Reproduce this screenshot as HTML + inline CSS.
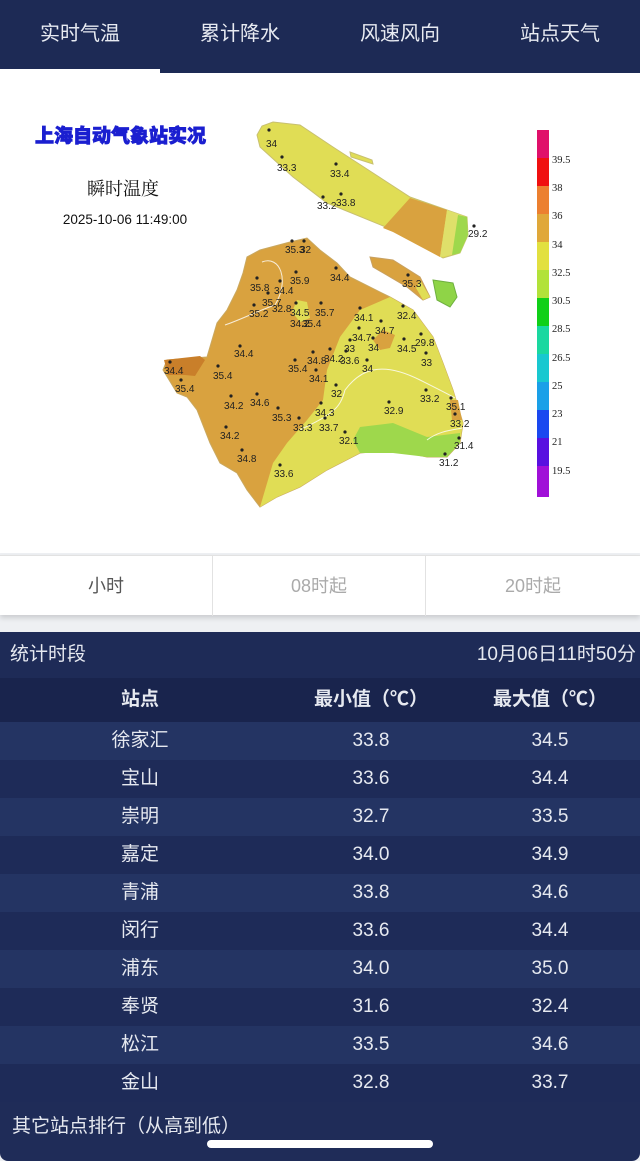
<!DOCTYPE html>
<html><head><meta charset="utf-8">
<style>
*{margin:0;padding:0;box-sizing:border-box}
body{width:640px;height:1161px;overflow:hidden;background:#eef0f3;font-family:"Liberation Sans","Noto Sans CJK SC",sans-serif;position:relative}
.nav{position:absolute;left:0;top:0;width:640px;height:73px;background:#1d2a55;box-shadow:0 3px 6px rgba(0,0,0,.15)}
.nav span{position:absolute;top:22px;line-height:24px;font-size:20px;color:#e8ebf2;width:160px;text-align:center}
.ul{position:absolute;left:0;top:69px;width:160px;height:4px;background:#fff}
.map{position:absolute;left:0;top:73px;width:640px;height:480px;background:#fff}
.seg{position:absolute;left:0;top:555px;width:640px;height:60px;background:#fff;border-top:1px solid #e2e2e2;box-shadow:0 3px 5px rgba(0,0,0,.15)}
.seg div{position:absolute;top:0;height:60px;width:213px;text-align:center;line-height:60px;font-size:18px;color:#aaa;border-right:1px solid #e2e2e2}
.tbl{position:absolute;left:0;top:632px;width:640px;height:529px;background:#1f2c58;border-radius:0 0 8px 8px}
.row{position:absolute;left:0;width:640px;height:38px;color:#e6e9f0;font-size:19px}
.row span{position:absolute;top:8px;line-height:22px;height:22px;text-align:center}
.c1{left:40px;width:200px}.c2{left:271px;width:200px}.c3{left:450px;width:200px}
</style></head><body>
<div class="nav">
<span style="left:0">实时气温</span><span style="left:160px">累计降水</span><span style="left:320px">风速风向</span><span style="left:480px">站点天气</span>
<div class="ul"></div></div>
<div class="map">
<svg width="640" height="480" viewBox="0 73 640 480" xmlns="http://www.w3.org/2000/svg" font-family="Liberation Sans, sans-serif">
<text x="35" y="142" font-size="19" font-weight="900" fill="#1b1fd0" font-family="Noto Sans CJK SC, sans-serif" stroke="#1b1fd0" stroke-width="0.8">上海自动气象站实况</text>
<text x="123" y="195" font-size="18" text-anchor="middle" fill="#111" font-family="Noto Serif CJK SC, serif">瞬时温度</text>
<text x="125" y="224" font-size="13.5" text-anchor="middle" fill="#111">2025-10-06 11:49:00</text>
<!-- Chongming -->
<polygon points="257,135 262,126 273,122 300,125 333,147 410,197 467,217 468,235 460,253 443,258 393,230 327,203 293,177 260,147" fill="#e0dd55" stroke="#c8c070" stroke-width="1"/>
<polygon points="410,198 447,210 440,257 393,232 383,228" fill="#d9a23f"/>
<polygon points="447,210 467,217 468,235 460,253 440,257" fill="#dfe06a"/>
<polygon points="458,215 467,217 468,235 460,253 452,255" fill="#9ed84c"/>
<polygon points="350,152 372,160 373,164 351,157" fill="#e0dd55" stroke="#c8c070" stroke-width="1"/>
<!-- Changxing / Hengsha -->
<polygon points="370,257 393,260 420,277 430,297 423,300 407,287 373,267" fill="#d9a23f" stroke="#c8a060" stroke-width="1"/>
<polygon points="420,280 430,297 423,300 416,288" fill="#e0dd55"/>
<polygon points="433,280 453,283 457,297 450,307 437,300" fill="#8fd447" stroke="#6fb040" stroke-width="1"/>
<!-- Main body -->
<polygon points="290,242 307,238 320,250 337,263 350,277 390,297 413,310 433,337 443,363 453,390 463,423 460,443 447,457 427,457 393,450 360,453 327,470 300,487 277,497 260,507 247,490 237,473 220,463 210,443 197,410 187,397 177,393 163,370 167,360 207,357 217,323 227,310 237,290 243,273 247,257 260,250" fill="#d9a23f" stroke="#c9a860" stroke-width="1"/>
<polygon points="390,297 413,310 433,337 443,363 453,390 463,423 460,443 447,457 427,457 393,450 360,453 327,470 300,487 277,497 260,507 273,463 287,443 307,420 323,400 327,370 340,337 360,310" fill="#e0dd55"/>
<polygon points="360,427 393,423 427,437 460,433 460,443 447,457 427,457 393,453 360,453 353,440" fill="#9ed84c"/>
<polygon points="164,360 200,356 205,360 195,376 185,375 168,375" fill="#c97f2a"/>
<polygon points="297,300 307,302 310,318 300,322 292,312" fill="#e0dd55"/>
<polygon points="373,340 383,330 395,335 390,348 380,350" fill="#d9a23f"/>
<polygon points="450,400 458,400 462,420 452,420" fill="#d9a23f"/>
<g fill="none" stroke="#fff" stroke-width="1" opacity=".8">
<path d="M262,262 C280,255 290,280 275,305 C260,310 240,320 225,325"/>
<path d="M300,430 C330,415 340,410 345,390 C360,370 380,360 420,380 C440,390 450,395 455,398"/>
<path d="M427,440 C440,430 455,430 462,428"/>
</g>
<g font-size="10" fill="#222">
<circle cx="269" cy="130" r="1.6"/><text x="266" y="147">34</text>
<circle cx="282" cy="157" r="1.6"/><text x="277" y="171">33.3</text>
<circle cx="336" cy="164" r="1.6"/><text x="330" y="177">33.4</text>
<circle cx="323" cy="197" r="1.6"/><text x="317" y="209">33.2</text>
<circle cx="341" cy="194" r="1.6"/><text x="336" y="206">33.8</text>
<circle cx="474" cy="226" r="1.6"/><text x="468" y="237">29.2</text>
<circle cx="292" cy="241" r="1.6"/><text x="285" y="253">35.3</text>
<circle cx="304" cy="241" r="1.6"/><text x="300" y="253">32</text>
<circle cx="257" cy="278" r="1.6"/><text x="250" y="291">35.8</text>
<circle cx="280" cy="281" r="1.6"/><text x="274" y="294">34.4</text>
<circle cx="296" cy="272" r="1.6"/><text x="290" y="284">35.9</text>
<circle cx="336" cy="268" r="1.6"/><text x="330" y="281">34.4</text>
<circle cx="408" cy="275" r="1.6"/><text x="402" y="287">35.3</text>
<circle cx="268" cy="293" r="1.6"/><text x="262" y="306">35.7</text>
<circle cx="254" cy="305" r="1.6"/><text x="249" y="317">35.2</text>
<text x="272" y="312">32.8</text>
<circle cx="296" cy="303" r="1.6"/><text x="290" y="316">34.5</text>
<circle cx="321" cy="303" r="1.6"/><text x="315" y="316">35.7</text>
<text x="290" y="327">34.2</text><text x="302" y="327">35.4</text>
<circle cx="360" cy="308" r="1.6"/><text x="354" y="321">34.1</text>
<circle cx="403" cy="306" r="1.6"/><text x="397" y="319">32.4</text>
<circle cx="381" cy="321" r="1.6"/><text x="375" y="334">34.7</text>
<circle cx="359" cy="328" r="1.6"/><text x="352" y="341">34.7</text>
<circle cx="373" cy="338" r="1.6"/><text x="368" y="351">34</text>
<circle cx="404" cy="339" r="1.6"/><text x="397" y="352">34.5</text>
<circle cx="421" cy="334" r="1.6"/><text x="415" y="346">29.8</text>
<circle cx="350" cy="340" r="1.6"/><text x="344" y="352">33</text>
<circle cx="346" cy="351" r="1.6"/><text x="340" y="364">33.6</text>
<circle cx="330" cy="349" r="1.6"/><text x="324" y="362">34.2</text>
<circle cx="313" cy="352" r="1.6"/><text x="307" y="364">34.8</text>
<circle cx="367" cy="360" r="1.6"/><text x="362" y="372">34</text>
<circle cx="426" cy="353" r="1.6"/><text x="421" y="366">33</text>
<circle cx="240" cy="346" r="1.6"/><text x="234" y="357">34.4</text>
<circle cx="170" cy="362" r="1.6"/><text x="164" y="374">34.4</text>
<circle cx="218" cy="366" r="1.6"/><text x="213" y="379">35.4</text>
<circle cx="295" cy="360" r="1.6"/><text x="288" y="372">35.4</text>
<circle cx="316" cy="370" r="1.6"/><text x="309" y="382">34.1</text>
<circle cx="181" cy="380" r="1.6"/><text x="175" y="392">35.4</text>
<circle cx="336" cy="385" r="1.6"/><text x="331" y="397">32</text>
<circle cx="426" cy="390" r="1.6"/><text x="420" y="402">33.2</text>
<circle cx="451" cy="398" r="1.6"/><text x="446" y="410">35.1</text>
<circle cx="389" cy="402" r="1.6"/><text x="384" y="414">32.9</text>
<circle cx="231" cy="396" r="1.6"/><text x="224" y="409">34.2</text>
<circle cx="257" cy="394" r="1.6"/><text x="250" y="406">34.6</text>
<circle cx="278" cy="408" r="1.6"/><text x="272" y="421">35.3</text>
<circle cx="321" cy="403" r="1.6"/><text x="315" y="416">34.3</text>
<circle cx="299" cy="418" r="1.6"/><text x="293" y="431">33.3</text>
<circle cx="325" cy="418" r="1.6"/><text x="319" y="431">33.7</text>
<circle cx="455" cy="414" r="1.6"/><text x="450" y="427">33.2</text>
<circle cx="345" cy="432" r="1.6"/><text x="339" y="444">32.1</text>
<circle cx="459" cy="438" r="1.6"/><text x="454" y="449">31.4</text>
<circle cx="226" cy="427" r="1.6"/><text x="220" y="439">34.2</text>
<circle cx="445" cy="454" r="1.6"/><text x="439" y="466">31.2</text>
<circle cx="242" cy="450" r="1.6"/><text x="237" y="462">34.8</text>
<circle cx="280" cy="465" r="1.6"/><text x="274" y="477">33.6</text>
</g>
<g>
<rect x="537" y="130" width="12" height="28" fill="#e0106a"/>
<rect x="537" y="158" width="12" height="28" fill="#f01010"/>
<rect x="537" y="186" width="12" height="28" fill="#ec8030"/>
<rect x="537" y="214" width="12" height="28" fill="#e0a83a"/>
<rect x="537" y="242" width="12" height="28" fill="#e2e040"/>
<rect x="537" y="270" width="12" height="28" fill="#b2e23a"/>
<rect x="537" y="298" width="12" height="28" fill="#10d018"/>
<rect x="537" y="326" width="12" height="28" fill="#1ad8a0"/>
<rect x="537" y="354" width="12" height="28" fill="#18c8d0"/>
<rect x="537" y="382" width="12" height="28" fill="#1aa0e8"/>
<rect x="537" y="410" width="12" height="28" fill="#1a48f0"/>
<rect x="537" y="438" width="12" height="28" fill="#5810e0"/>
<rect x="537" y="466" width="12" height="31" fill="#a010d8"/>
</g>
<g font-size="10.5" fill="#222" font-family="Liberation Serif, serif">
<text x="552" y="163">39.5</text><text x="552" y="191">38</text><text x="552" y="219">36</text><text x="552" y="248">34</text><text x="552" y="276">32.5</text><text x="552" y="304">30.5</text><text x="552" y="332">28.5</text><text x="552" y="361">26.5</text><text x="552" y="389">25</text><text x="552" y="417">23</text><text x="552" y="445">21</text><text x="552" y="474">19.5</text>
</g>
</svg>
</div>
<div class="seg">
<div style="left:0;color:#555">小时</div><div style="left:213px">08时起</div><div style="left:426px;border-right:none;width:214px">20时起</div>
</div>
<div class="tbl">
<div class="row" style="top:0;height:46px;background:#1e2b57"><span style="left:10px;top:12px">统计时段</span><span style="right:4px;top:12px">10月06日11时50分</span></div>
<div class="row" style="top:46px;height:44px;background:#19244d;font-weight:bold"><span class="c1" style="top:11px">站点</span><span class="c2" style="top:11px">最小值（℃）</span><span class="c3" style="top:11px">最大值（℃）</span></div>
<div class="row" style="top:90px;background:#243463"><span class="c1">徐家汇</span><span class="c2">33.8</span><span class="c3">34.5</span></div>
<div class="row" style="top:128px;background:#1e2b58"><span class="c1">宝山</span><span class="c2">33.6</span><span class="c3">34.4</span></div>
<div class="row" style="top:166px;background:#243463"><span class="c1">崇明</span><span class="c2">32.7</span><span class="c3">33.5</span></div>
<div class="row" style="top:204px;background:#1e2b58"><span class="c1">嘉定</span><span class="c2">34.0</span><span class="c3">34.9</span></div>
<div class="row" style="top:242px;background:#243463"><span class="c1">青浦</span><span class="c2">33.8</span><span class="c3">34.6</span></div>
<div class="row" style="top:280px;background:#1e2b58"><span class="c1">闵行</span><span class="c2">33.6</span><span class="c3">34.4</span></div>
<div class="row" style="top:318px;background:#243463"><span class="c1">浦东</span><span class="c2">34.0</span><span class="c3">35.0</span></div>
<div class="row" style="top:356px;background:#1e2b58"><span class="c1">奉贤</span><span class="c2">31.6</span><span class="c3">32.4</span></div>
<div class="row" style="top:394px;background:#243463"><span class="c1">松江</span><span class="c2">33.5</span><span class="c3">34.6</span></div>
<div class="row" style="top:432px;background:#1e2b58"><span class="c1">金山</span><span class="c2">32.8</span><span class="c3">33.7</span></div>
<div class="row" style="top:480px;background:transparent"><span style="left:12px;top:4px">其它站点排行（从高到低）</span></div>
<div style="position:absolute;left:207px;top:508px;width:226px;height:8px;border-radius:4px;background:#fff"></div>
</div>
</body></html>
